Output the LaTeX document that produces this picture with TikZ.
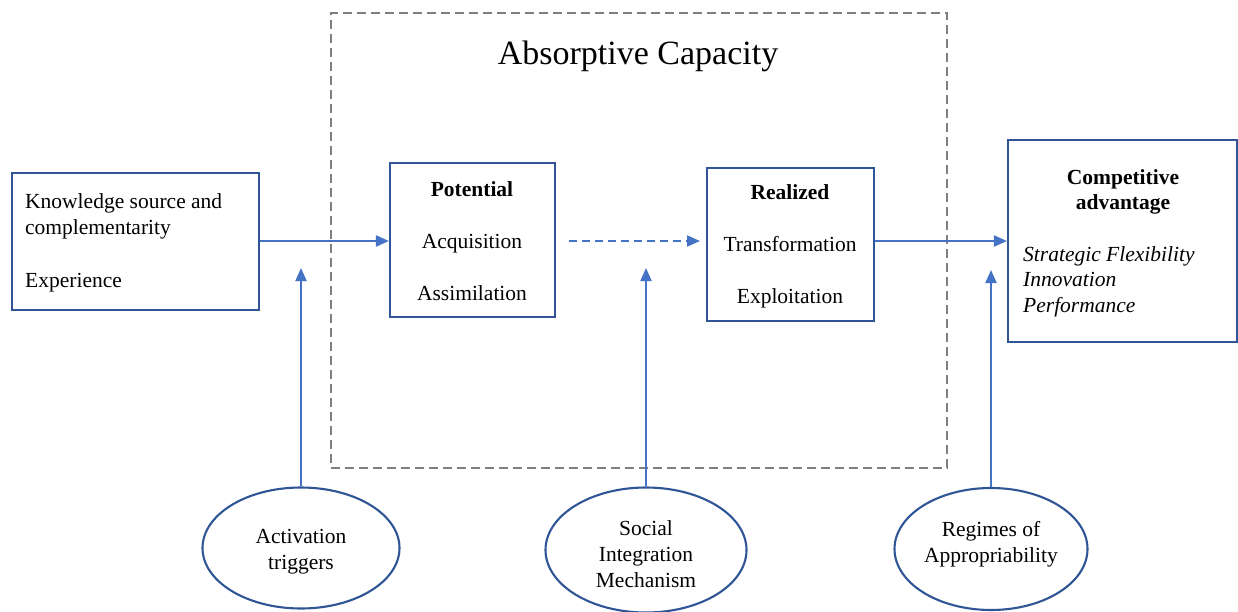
\documentclass[tikz,border=0pt]{standalone}
\usepackage{fontspec}
\setmainfont{Liberation Serif}
\usetikzlibrary{arrows.meta,shapes.geometric}
\definecolor{boxblue}{HTML}{2F5597}
\definecolor{arrowblue}{HTML}{4472C4}
\definecolor{dashgray}{HTML}{7F7F7F}
\begin{document}
\begin{tikzpicture}[x=1pt,y=-1pt,
  every node/.style={font=\fontsize{21.5}{26}\selectfont, inner sep=0pt},
  box/.style={draw=boxblue, line width=2.1pt, rectangle},
  oval/.style={draw=boxblue, line width=2.1pt, ellipse},
  txt/.style={align=center},
  arr/.style={draw=arrowblue, line width=2pt, -{Triangle[length=13pt,width=11pt]}},
  frame/.style={draw=dashgray, line width=2pt, dash pattern=on 9pt off 5pt, rectangle}]
\useasboundingbox (0,0) rectangle (1238,612);
\fill[white] (0,0) rectangle (1238,612);

% absorptive capacity frame and title
\node[frame, minimum width=616pt, minimum height=455pt] (absorb) at (639,240.5) {};
\node[font=\fontsize{34}{40}\selectfont] (title) at (638,56) {Absorptive Capacity};

% knowledge source box (base anchor = baseline of the last line)
\node[box, minimum width=247pt, minimum height=137pt] (src) at (135.5,241.5) {};
\node[anchor=base west, align=left] (srcT) at (25,287)
  {Knowledge source and\\complementarity\\[26pt]Experience};

% potential absorptive capacity
\node[box, minimum width=165pt, minimum height=154pt] (pot) at (472.5,240) {};
\node[anchor=base, txt] (potT) at (472,300)
  {\textbf{Potential}\\[26pt]Acquisition\\[26pt]Assimilation};

% realized absorptive capacity
\node[box, minimum width=167pt, minimum height=153pt] (real) at (790.5,244.5) {};
\node[anchor=base, txt] (realT) at (790,303)
  {\textbf{Realized}\\[26pt]Transformation\\[26pt]Exploitation};

% competitive advantage
\node[box, minimum width=229pt, minimum height=202pt] (comp) at (1122.5,241) {};
\node[anchor=base, txt, font=\fontsize{21.5}{25}\selectfont\bfseries] (compT) at (1123,210)
  {Competitive\\advantage};
\node[anchor=base west, align=left, font=\fontsize{21.5}{25.5}\selectfont\itshape] (compL) at (1023,312)
  {Strategic Flexibility\\Innovation\\Performance};

% contingency factors
\node[oval, minimum width=197pt, minimum height=121pt] (trig) at (301,548) {};
\node[anchor=base, txt] (trigT) at (301,569) {Activation\\triggers};
\node[oval, minimum width=201pt, minimum height=125pt] (soc) at (646,550) {};
\node[anchor=base, txt] (socT) at (646,587) {Social\\Integration\\Mechanism};
\node[oval, minimum width=193pt, minimum height=122pt] (reg) at (991,549) {};
\node[anchor=base, txt] (regT) at (991,562) {Regimes of\\Appropriability};

% main flow
\coordinate (flow) at (0,241);
\draw[arr] (src.east |- flow) -- (pot.west |- flow);
\coordinate (dashA) at (569,241);
\coordinate (dashB) at (700,241);
\draw[arr, dash pattern=on 8pt off 5pt] (dashA) -- (dashB);
\draw[arr] (real.east |- flow) -- (comp.west |- flow);

% moderating arrows
\coordinate (tipA) at (301,268);
\coordinate (tipB) at (646,268);
\coordinate (tipC) at (991,270);
\draw[arr] (trig.north) -- (tipA);
\draw[arr] (soc.north) -- (tipB);
\draw[arr] (reg.north) -- (tipC);
\end{tikzpicture}
\end{document}
